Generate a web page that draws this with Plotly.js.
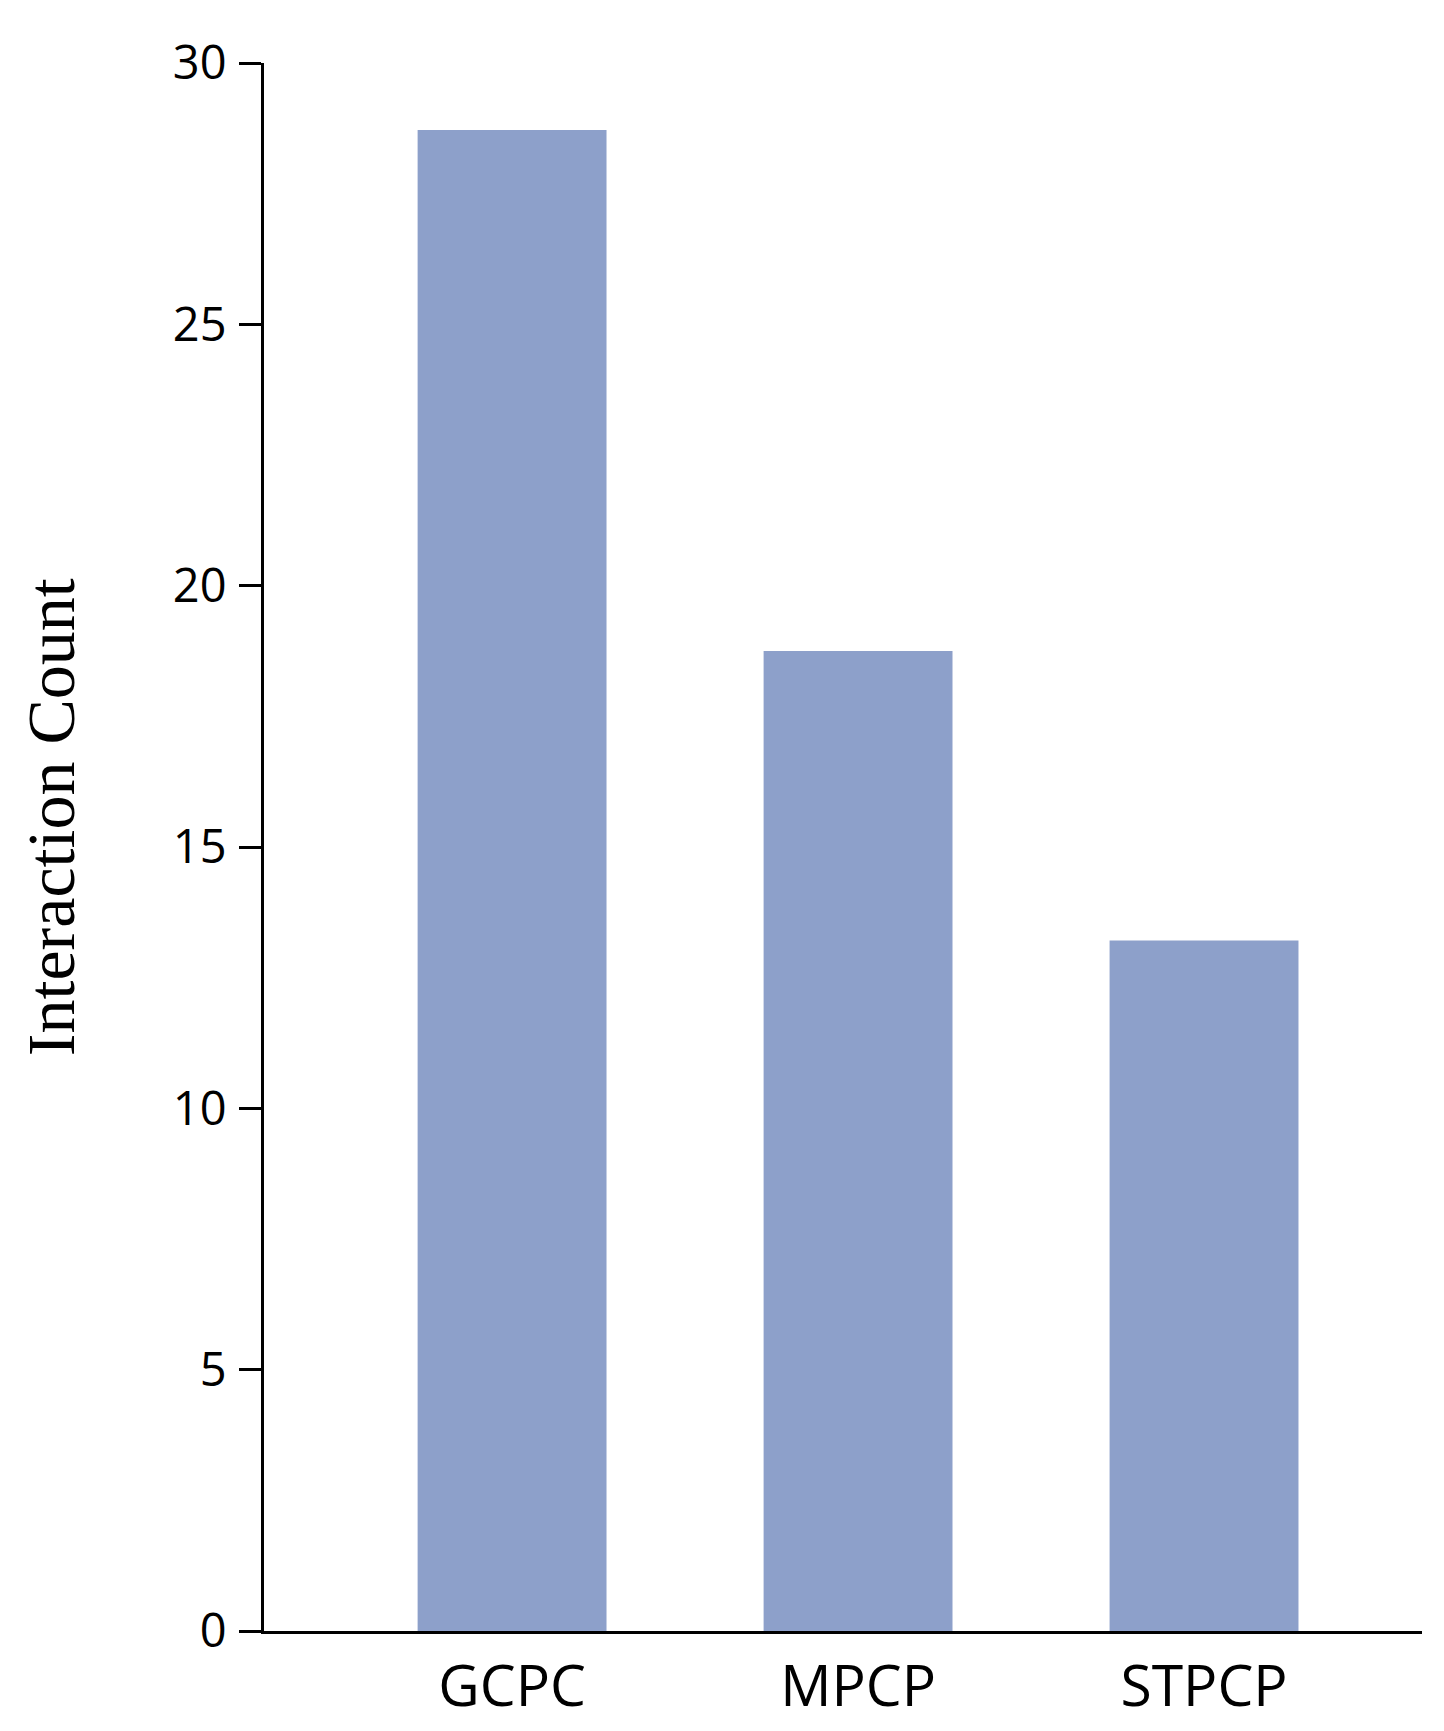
<!DOCTYPE html>
<html>
<head>
<meta charset="utf-8">
<script src="https://cdn.plot.ly/plotly-3.0.1.min.js"></script>
<style>html,body{margin:0;padding:0;background:#fff;}#chart{width:1444px;height:1731px;}</style>
</head>
<body>
<div id="chart"></div>
<script>
const categories = ["GCPC", "MPCP", "STPCP"];
const interactionCounts = [28.72, 18.75, 13.21];
const yTickValues = [0, 5, 10, 15, 20, 25, 30];
const yTitle = "Interaction Count";

const trace = {
  type: "bar",
  x: categories,
  y: interactionCounts,
  width: 0.546,
  marker: { color: "rgb(141,160,202)", line: { width: 0 } },
  hoverinfo: "x+y"
};

const layout = {
  width: 1444,
  height: 1731,
  paper_bgcolor: "#ffffff",
  plot_bgcolor: "#ffffff",
  margin: { l: 264, r: 22, t: 63, b: 100, pad: 0 },
  showlegend: false,
  font: { family: "Open Sans, sans-serif", color: "#000" },
  xaxis: {
    type: "category",
    range: [-0.717, 2.63],
    showline: true,
    linecolor: "#000",
    linewidth: 3,
    ticks: "",
    showgrid: false,
    zeroline: false,
    tickfont: { family: "Open Sans, sans-serif", size: 57, color: "#000" },
    ticklabelstandoff: 4
  },
  yaxis: {
    range: [0, 30],
    tickvals: yTickValues,
    ticktext: yTickValues.map(String),
    showline: true,
    linecolor: "#000",
    linewidth: 3,
    ticks: "outside",
    ticklen: 22,
    tickwidth: 3,
    tickcolor: "#000",
    showgrid: false,
    zeroline: false,
    tickfont: { family: "Open Sans, sans-serif", size: 47, color: "#000" },
    ticklabelstandoff: 3
  },
  annotations: [{
    text: yTitle,
    xref: "paper",
    yref: "paper",
    x: -0.184,
    y: 0.519,
    xanchor: "center",
    yanchor: "middle",
    textangle: -90,
    showarrow: false,
    font: { family: "Liberation Serif, Times New Roman, serif", size: 68, color: "#000" }
  }]
};

Plotly.newPlot("chart", [trace], layout, { displayModeBar: false, staticPlot: true });
</script>
</body>
</html>
